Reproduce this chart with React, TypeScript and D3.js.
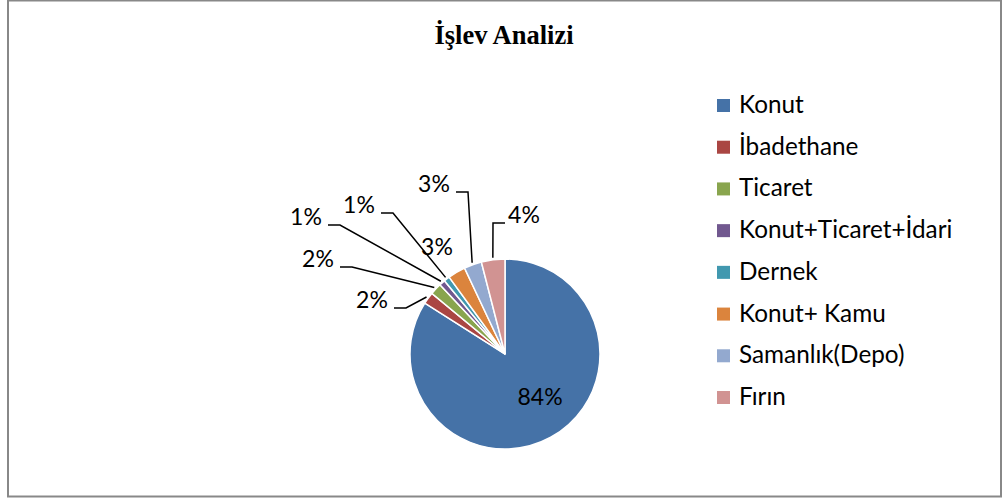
import React from 'react';
import * as d3 from 'd3';

// chart data
const categories = ['Konut', 'İbadethane', 'Ticaret', 'Konut+Ticaret+İdari', 'Dernek', 'Konut+ Kamu', 'Samanlık(Depo)', 'Fırın'];
const shares = [84, 2, 2, 1, 1, 3, 3, 4];
const colors = ['#4572A7', '#AA4643', '#89A54E', '#71588F', '#4198AF', '#DB843D', '#93A9CF', '#D19392'];
const title = 'İşlev Analizi';

// label layout (x center, baseline) and whether a leader line is drawn
const labelAt: [number, number][] = [[540, 405], [372, 308], [318, 267], [306, 225], [359, 213], [437, 255], [434, 192], [524, 223]];
const hasLeader = [false, true, true, true, true, false, true, true];

const W = 1006;
const H = 499;
const cx = 505;
const cy = 354;
const R = 95;
const labelFont = 'Lato, "Open Sans", sans-serif';

export default function App() {
    const pie = d3.pie<number>().sort(null).value(d => d);
    const arcs = pie(shares);
    const arc = d3.arc<d3.PieArcDatum<number>>().innerRadius(0).outerRadius(R);
    const edge = d3.arc<d3.PieArcDatum<number>>().innerRadius(R + 2).outerRadius(R + 2);
    const legendY = d3.scaleLinear().domain([0, categories.length - 1]).range([113, 405]);
    const hw = 16;

    return (
        <svg width={W} height={H} style={{ position: 'absolute', left: 0, top: 0 }}>
            <rect x={0} y={0} width={W} height={H} fill="#fff" />
            <rect x={8} y={0.5} width={993} height={496} fill="none" stroke="#888" strokeWidth={2} />
            <text x={504} y={44} textAnchor="middle" fontFamily='"Liberation Serif", "Times New Roman", serif'
                fontWeight="bold" fontSize={26.5} fill="#000">{title}</text>
            <g transform={`translate(${cx},${cy})`}>
                {arcs.map((a, i) => (
                    <path key={i} d={arc(a) || ''} fill={colors[i]} stroke="#fff" strokeWidth={1.5} />
                ))}
            </g>
            {arcs.map((a, i) => {
                if (!hasLeader[i]) return null;
                const [ex, ey] = edge.centroid(a);
                const sx = cx + ex;
                const sy = cy + ey;
                const [lx, ly] = labelAt[i];
                const right = sx > lx;
                const p0: [number, number] = right ? [lx + hw + 6, ly] : [lx - hw - 3, ly];
                const p1: [number, number] = right ? [lx + hw + 18, ly] : [lx - hw - 15, ly];
                const line = d3.line()([p0, p1, [sx, sy]]);
                return <path key={'l' + i} d={line || ''} fill="none" stroke="#000" strokeWidth={1.5} />;
            })}
            {arcs.map((a, i) => (
                <text key={'t' + i} x={labelAt[i][0]} y={labelAt[i][1]} textAnchor="middle"
                    fontFamily={labelFont} fontSize={23} fill="#000">{shares[i]}%</text>
            ))}
            {categories.map((c, i) => (
                <g key={'g' + i}>
                    <rect x={717} y={legendY(i) - 14} width={13} height={13} fill={colors[i]} />
                    <text x={739} y={legendY(i)} fontFamily={labelFont} fontSize={24.3} fill="#000">{c}</text>
                </g>
            ))}
        </svg>
    );
}
